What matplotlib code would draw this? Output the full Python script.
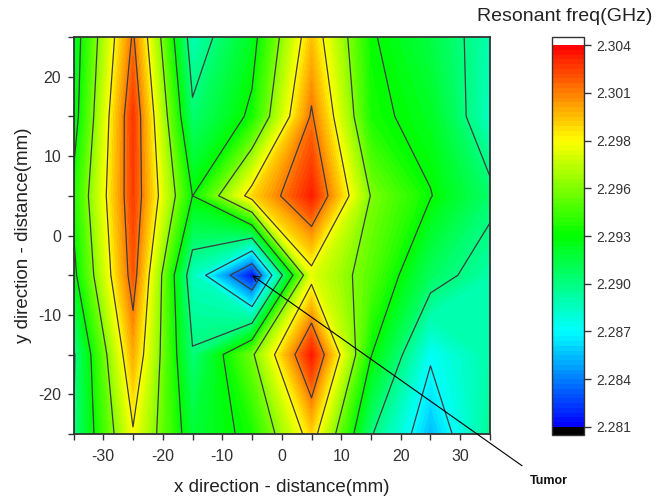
import numpy as np
import matplotlib
matplotlib.use("Agg")
import matplotlib.pyplot as plt
from matplotlib.colors import LinearSegmentedColormap

plt.rcParams['font.family'] = ['Liberation Sans', 'DejaVu Sans']
plt.rcParams['axes.unicode_minus'] = False

# scan grid (mm)
x_mm = [-35, -25, -15, -5, 5, 15, 25, 35]
y_mm = [-25, -15, -5, 5, 15, 25]

# resonant frequency (GHz), one row per y position
freq_y_m25 = [2.2898, 2.2983, 2.2915, 2.2932, 2.2994, 2.2900, 2.2855, 2.2895]
freq_y_m15 = [2.2896, 2.3003, 2.2900, 2.2953, 2.3037, 2.2928, 2.2872, 2.2890]
freq_y_m5 = [2.2922, 2.3022, 2.2885, 2.2815, 2.2978, 2.2946, 2.2906, 2.28895]
freq_y_5 = [2.2932, 2.3028, 2.2927, 2.2993, 2.3036, 2.2955, 2.2928, 2.2903]
freq_y_15 = [2.2918, 2.3030, 2.2902, 2.2931, 2.3016, 2.2932, 2.2920, 2.2884]
freq_y_25 = [2.2915, 2.3016, 2.2887, 2.2920, 2.2998, 2.2929, 2.2912, 2.2888]

cbar_ticks = [2.2812, 2.28408, 2.28696, 2.28984, 2.29272, 2.2956,
              2.29848, 2.30136, 2.30424]

freq = np.array([freq_y_m25, freq_y_m15, freq_y_m5, freq_y_5, freq_y_15, freq_y_25])
X, Y = np.meshgrid(x_mm, y_mm)

cmap = LinearSegmentedColormap.from_list(
    "rainbow_origin", ["#0000ff", "#00ffff", "#00ff00", "#ffff00", "#ff0000"])
cmap.set_over("white")
cmap.set_under("black")

fig = plt.figure(figsize=(6.61, 4.98), dpi=100)
ax = fig.add_axes([0.1112, 0.1285, 0.6301, 0.7972])
cax = fig.add_axes([0.8351, 0.1265, 0.0484, 0.7992])

fill_levels = np.linspace(cbar_ticks[0], cbar_ticks[-1], 81)
cf = ax.contourf(X, Y, freq, levels=fill_levels, cmap=cmap, extend="both")
ax.contour(X, Y, freq, levels=cbar_ticks[1:-1], colors="#3c3c3c", linewidths=0.9)

ax.set_xlim(-35, 35)
ax.set_ylim(-25, 25)
ax.set_xticks([-30, -20, -10, 0, 10, 20, 30])
ax.set_xticks(np.arange(-35, 36, 5), minor=True)
ax.set_yticks([-20, -10, 0, 10, 20])
ax.set_yticks(np.arange(-25, 26, 5), minor=True)
ax.tick_params(which="both", direction="out", length=4.5, width=1,
               colors="#333333", labelsize=11.5)
ax.tick_params(axis="x", pad=6)
ax.tick_params(axis="y", pad=4.5)
for sp in ax.spines.values():
    sp.set_linewidth(1.3)
    sp.set_color("#333333")

ax.set_xlabel("x direction - distance(mm)", fontsize=13.5, color="#222222", labelpad=11)
ax.set_ylabel("y direction - distance(mm)", fontsize=13.5, color="#222222", labelpad=4)

ax.annotate("", xy=(-5, -5), xycoords="data", xytext=(1.077, -0.08),
            textcoords="axes fraction", annotation_clip=False,
            arrowprops=dict(arrowstyle="->", color="black", lw=0.8,
                            shrinkA=0, shrinkB=0, mutation_scale=10))
ax.text(1.095, -0.118, "Tumor", transform=ax.transAxes, fontsize=9,
        fontweight="bold", ha="left", va="center", color="#111111")

cb = fig.colorbar(cf, cax=cax, ticks=cbar_ticks, extendrect=True, extendfrac=0.021)
cb.ax.set_yticklabels(["%.3f" % t for t in cbar_ticks])
cb.ax.tick_params(direction="out", length=5, width=1, colors="#333333",
                  labelsize=10, pad=4)
cb.outline.set_linewidth(1.0)
cb.outline.set_edgecolor("#333333")

fig.text(0.855, 0.966, "Resonant freq(GHz)", fontsize=14, color="#222222",
         ha="center", va="center")

fig.savefig("out.png", dpi=100)
